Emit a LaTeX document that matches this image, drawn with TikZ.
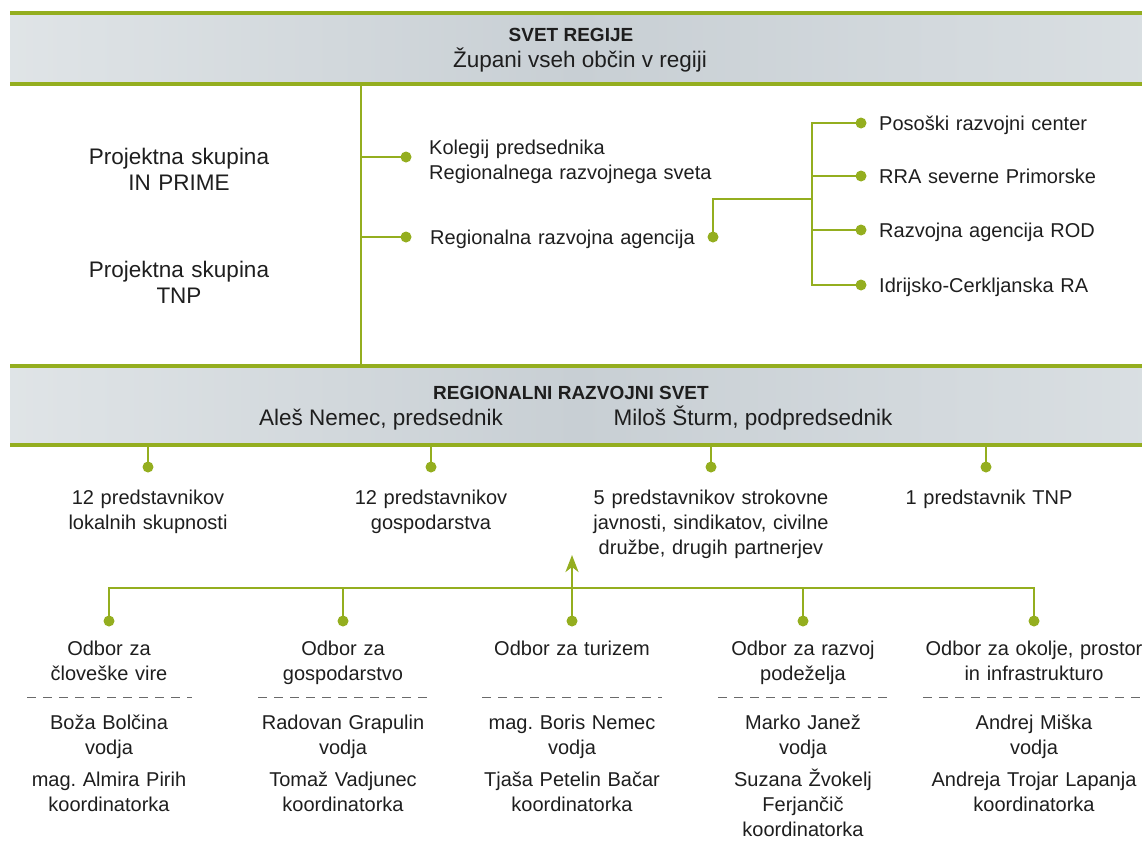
\documentclass[tikz,border=0pt]{standalone}
\usepackage{fontspec}
\setmainfont{Liberation Sans}
\usetikzlibrary{arrows.meta}
\frenchspacing
\definecolor{lime}{HTML}{94AE1F}
\definecolor{ink}{HTML}{1E1E1E}
\definecolor{dashgray}{HTML}{6A6A6A}
\definecolor{bandL}{RGB}{248,249,249}
\definecolor{bandA}{RGB}{230,234,236}
\definecolor{bandC}{RGB}{200,207,212}
\definecolor{bandB}{RGB}{222,227,230}
\definecolor{bandR}{RGB}{243,245,246}
\pgfdeclarehorizontalshading{bandshade}{100bp}{color(0bp)=(bandL); color(18bp)=(bandA); color(50bp)=(bandC); color(82bp)=(bandB); color(100bp)=(bandR)}
\tikzset{
  txt/.style={inner sep=0pt, text=ink, font=\fontsize{20}{25}\selectfont},
  bigtxt/.style={inner sep=0pt, text=ink, font=\fontsize{22.5}{26}\selectfont},
  ctext/.style={txt, align=center, text width=320pt, anchor=base},
  ltext/.style={txt, align=left, text width=330pt, anchor=base west},
  ttl/.style={txt, font=\bfseries\fontsize{19}{25}\selectfont, anchor=base},
  dot/.style={circle, fill=lime, draw=none, minimum size=11pt, inner sep=0pt},
  conn/.style={draw=lime, line width=2.6pt},
  bandline/.style={draw=lime, line width=3.4pt},
  sep/.style={draw=dashgray, line width=1pt, dash pattern=on 9pt off 7pt},
}
\begin{document}
\begin{tikzpicture}[x=1pt,y=-1pt]
\useasboundingbox (0,0) rectangle (1142,846);
% bands
\shade[shading=bandshade] (10,13) rectangle (1142,84);
\shade[shading=bandshade] (10,366) rectangle (1142,445);
\draw[bandline] (10,13) -- (1142,13);
\draw[bandline] (10,84) -- (1142,84);
\draw[bandline] (10,366) -- (1142,366);
\draw[bandline] (10,445) -- (1142,445);
\coordinate (b1b) at (361,84);
\coordinate (b2t) at (361,366);
\coordinate (b2b) at (0,445);
% header texts
\node[ttl] (svet) at (571,41) {SVET REGIJE};
\node[bigtxt, anchor=base] (zupani) at (580,67) {Župani vseh občin v regiji};
\node[ttl] (rrs) at (571,399) {REGIONALNI RAZVOJNI SVET};
\node[bigtxt, anchor=base] (nemec) at (381,425) {Aleš Nemec, predsednik};
\node[bigtxt, anchor=base] (sturm) at (753,425) {Miloš Šturm, podpredsednik};
% left groups
\node[bigtxt, align=center, text width=320pt, anchor=base] (proj1) at (179,164) {Projektna skupina\\IN PRIME};
\node[bigtxt, align=center, text width=320pt, anchor=base] (proj2) at (179,277) {Projektna skupina\\TNP};
% trunk
\draw[draw=lime, line width=2.2pt] (b1b) -- (b2t);
\node[dot] (dk) at (406,157) {};
\node[dot] (dr) at (406,237) {};
\draw[conn] (dk.center) -- (dk.center -| b1b);
\draw[conn] (dr.center) -- (dr.center -| b1b);
\node[ltext] (kol) at (429,154) {Kolegij predsednika\\Regionalnega razvojnega sveta};
\node[ltext] (rra) at (430,244) {Regionalna razvojna agencija};
\node[dot] (drra) at (713,237) {};
\coordinate (fork) at (812,199);
\node[dot] (a1) at (861,123) {};
\node[dot] (a2) at (861,176) {};
\node[dot] (a3) at (861,230) {};
\node[dot] (a4) at (861,285) {};
\draw[conn] (drra.center) |- (fork);
\draw[conn] (a1.center) -| (fork) |- (a4.center);
\draw[conn] (a2.center) -- (a2.center -| fork);
\draw[conn] (a3.center) -- (a3.center -| fork);
\node[ltext] (t1) at (879,130) {Posoški razvojni center};
\node[ltext] (t2) at (879,183) {RRA severne Primorske};
\node[ltext] (t3) at (879,237) {Razvojna agencija ROD};
\node[ltext] (t4) at (879,292) {Idrijsko-Cerkljanska RA};
% council members
\node[dot] (r1) at (148,467) {};
\node[dot] (r2) at (431,467) {};
\node[dot] (r3) at (711,467) {};
\node[dot] (r4) at (986,467) {};
\foreach \r in {r1,r2,r3,r4} {\draw[conn] (\r.center) -- (\r.center |- b2b);}
\node[ctext] (m1) at (148,504) {12 predstavnikov\\lokalnih skupnosti};
\node[ctext] (m2) at (431,504) {12 predstavnikov\\gospodarstva};
\node[ctext] (m3) at (711,504) {5 predstavnikov strokovne\\javnosti, sindikatov, civilne\\družbe, drugih partnerjev};
\node[ctext] (m4) at (989,504) {1 predstavnik TNP};
% committees
\coordinate (bar) at (0,588);
\coordinate (arrowtip) at (572,555);
\node[dot] (c1) at (109,621) {};
\node[dot] (c2) at (343,621) {};
\node[dot] (c3) at (572,621) {};
\node[dot] (c4) at (803,621) {};
\node[dot] (c5) at (1034,621) {};
\draw[conn] (c1.center) -- (c1.center |- bar) -- (c5.center |- bar) -- (c5.center);
\draw[conn] (c2.center) -- (c2.center |- bar);
\draw[conn] (c4.center) -- (c4.center |- bar);
\draw[draw=lime, line width=2.6pt, -{Stealth[length=17pt,width=13pt,inset=5pt]}] (c3.center) -- (arrowtip);
\node[ctext] (o1) at (109,655) {Odbor za\\človeške vire};
\node[ctext] (o2) at (343,655) {Odbor za\\gospodarstvo};
\node[ctext] (o3) at (572,655) {Odbor za turizem};
\node[ctext] (o4) at (803,655) {Odbor za razvoj\\podeželja};
\node[ctext] (o5) at (1034,655) {Odbor za okolje, prostor\\in infrastrukturo};
% separators
\draw[sep] (27,697) -- (192,697);
\draw[sep] (258,697) -- (430,697);
\draw[sep] (482,697) -- (662,697);
\draw[sep] (718,697) -- (888,697);
\draw[sep] (923,697) -- (1150,697);
% leaders
\node[ctext] (l1) at (109,729) {Boža Bolčina\\vodja};
\node[ctext] (l2) at (343,729) {Radovan Grapulin\\vodja};
\node[ctext] (l3) at (572,729) {mag. Boris Nemec\\vodja};
\node[ctext] (l4) at (803,729) {Marko Janež\\vodja};
\node[ctext] (l5) at (1034,729) {Andrej Miška\\vodja};
% coordinators
\node[ctext] (k1) at (109,786) {mag. Almira Pirih\\koordinatorka};
\node[ctext] (k2) at (343,786) {Tomaž Vadjunec\\koordinatorka};
\node[ctext] (k3) at (572,786) {Tjaša Petelin Bačar\\koordinatorka};
\node[ctext] (k4) at (803,786) {Suzana Žvokelj\\Ferjančič\\koordinatorka};
\node[ctext] (k5) at (1034,786) {Andreja Trojar Lapanja\\koordinatorka};
\end{tikzpicture}
\end{document}
